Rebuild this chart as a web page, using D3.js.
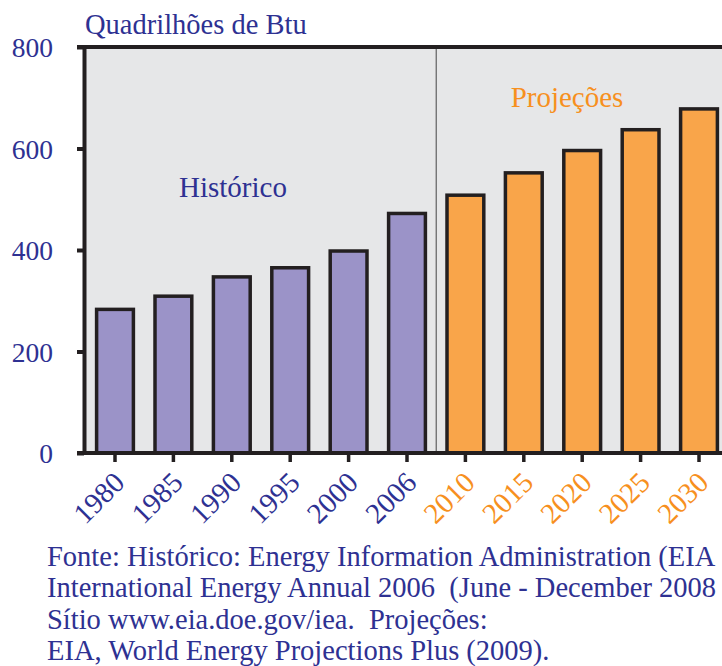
<!DOCTYPE html>
<html>
<head>
<meta charset="utf-8">
<script src="https://cdn.jsdelivr.net/npm/d3@7"></script>
<style>
  body { margin: 0; background: #fff; }
  svg text { font-family: "Liberation Serif", "Times New Roman", serif; white-space: pre; }
</style>
</head>
<body>
<div id="chart"></div>
<script>
// data
const years = ['1980', '1985', '1990', '1995', '2000', '2006', '2010', '2015', '2020', '2025', '2030'];
const consumption = [283, 309, 347, 365, 398, 472, 508, 552, 596, 637, 678];
const projectedYears = ['2010', '2015', '2020', '2025', '2030'];
const yTicks = [0, 200, 400, 600, 800];
// source lines as far as they show in the original (cut at the right edge)
const footLines = [
  'Fonte: Histórico: Energy Information Administration (EIA',
  'International Energy Annual 2006  (June - December 2008',
  'Sítio www.eia.doe.gov/iea.  Projeções:',
  'EIA, World Energy Projections Plus (2009).'
];

const navy = '#2e3192';
const orange = '#f7901e';
const ink = '#231f20';

const width = 722;
const height = 666;
const plot = { left: 84, right: 728.2, top: 47, bottom: 453 };

const svg = d3.select('#chart')
  .append('svg')
  .attr('width', width)
  .attr('height', height);

const x = d3.scaleBand()
  .domain(years)
  .range([plot.left + 1.8, plot.right])
  .paddingInner(0.37)
  .paddingOuter(0.185);

const y = d3.scaleLinear()
  .domain([0, 800])
  .range([plot.bottom, plot.top]);

const isProj = d => projectedYears.includes(d);

// background
svg.append('rect')
  .attr('x', plot.left)
  .attr('y', plot.top)
  .attr('width', plot.right - plot.left)
  .attr('height', plot.bottom - plot.top)
  .attr('fill', '#e6e7e8');

// divider between history and projections
const divX = (x('2006') + x.bandwidth() + x('2010')) / 2;
svg.append('line')
  .attr('x1', divX).attr('x2', divX)
  .attr('y1', plot.top).attr('y2', plot.bottom)
  .attr('stroke', '#444')
  .attr('stroke-width', 1);

// bars
svg.selectAll('.bar')
  .data(years)
  .enter().append('rect')
  .attr('class', 'bar')
  .attr('x', d => x(d))
  .attr('width', x.bandwidth())
  .attr('y', (d, i) => y(consumption[i]))
  .attr('height', (d, i) => plot.bottom - y(consumption[i]))
  .attr('fill', d => isProj(d) ? '#f9a54a' : '#9b93c8')
  .attr('stroke', ink)
  .attr('stroke-width', 3.5);

// top border
svg.append('line')
  .attr('x1', plot.left - 7).attr('x2', width)
  .attr('y1', plot.top).attr('y2', plot.top)
  .attr('stroke', ink)
  .attr('stroke-width', 4);

// y axis
const yAxis = svg.append('g')
  .attr('transform', 'translate(' + plot.left + ',0)')
  .call(d3.axisLeft(y).tickValues(yTicks).tickSize(7).tickPadding(24).tickSizeOuter(0));
yAxis.select('.domain').attr('stroke', ink).attr('stroke-width', 4);
yAxis.selectAll('.tick line').attr('stroke', ink).attr('stroke-width', 4);
yAxis.selectAll('.tick text')
  .attr('fill', navy)
  .style('font-size', '27.5px')
  .attr('dy', '0.36em');

// x axis
const xAxis = svg.append('g')
  .attr('transform', 'translate(0,' + plot.bottom + ')')
  .call(d3.axisBottom(x).tickSize(9).tickSizeOuter(0));
xAxis.select('.domain')
  .attr('d', 'M' + (plot.left - 7) + ',0H' + width)
  .attr('stroke', ink).attr('stroke-width', 4);
xAxis.selectAll('.tick line').attr('stroke', ink).attr('stroke-width', 3.5);
xAxis.selectAll('.tick text')
  .attr('fill', d => isProj(d) ? orange : navy)
  .style('font-size', '29px')
  .attr('text-anchor', 'end')
  .attr('x', 0).attr('y', 0).attr('dy', '0.35em')
  .attr('transform', 'translate(4,24) rotate(-45)');

// unit title
svg.append('text')
  .attr('x', 85)
  .attr('y', 34)
  .attr('fill', navy)
  .style('font-size', '28.5px')
  .text('Quadrilhões de Btu');

// period labels
svg.append('text')
  .attr('x', 233).attr('y', 197)
  .attr('text-anchor', 'middle')
  .attr('fill', navy)
  .style('font-size', '29px')
  .text('Histórico');

svg.append('text')
  .attr('x', 567).attr('y', 107)
  .attr('text-anchor', 'middle')
  .attr('fill', orange)
  .style('font-size', '29px')
  .text('Projeções');

// source note
svg.append('g')
  .selectAll('text')
  .data(footLines)
  .enter().append('text')
  .attr('x', 47)
  .attr('y', (d, i) => 566 + i * 31.3)
  .attr('fill', navy)
  .style('font-size', '28.5px')
  .text(d => d);
</script>
</body>
</html>
